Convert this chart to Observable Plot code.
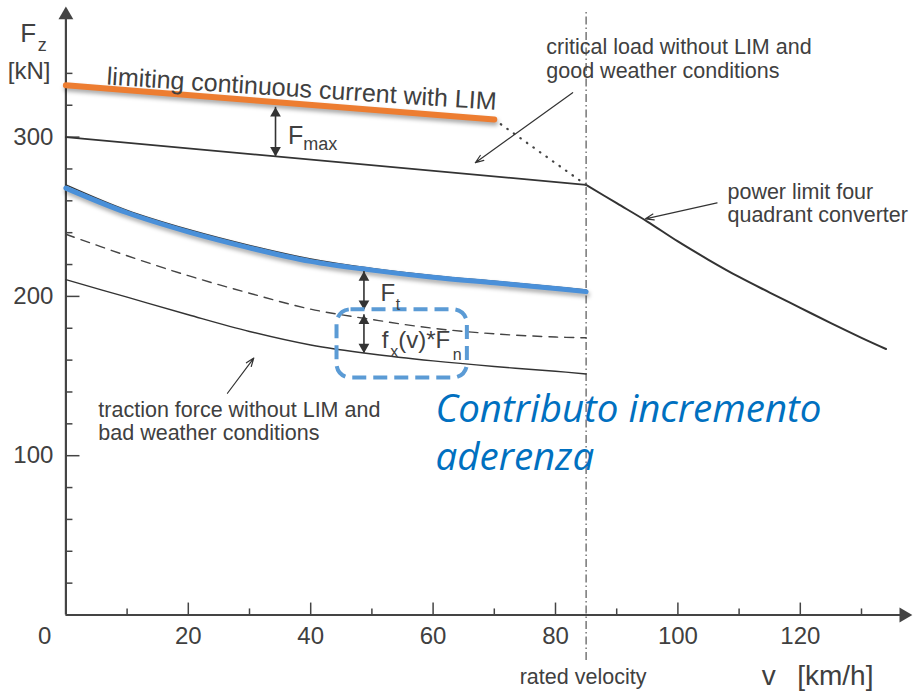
<!DOCTYPE html>
<html><head><meta charset="utf-8">
<script src="https://cdn.jsdelivr.net/npm/d3@7"></script>
<script src="https://cdn.jsdelivr.net/npm/@observablehq/plot@0.6"></script>
<style>
html,body{margin:0;padding:0;background:#fff;}
svg{display:block;}
.shadow{filter:drop-shadow(1px 3px 2px rgba(0,0,0,0.35));}
</style></head><body><div id="chart"></div>
<script>
// ---- data (velocity in km/h, force in kN) ----
const velocity = [0, 10, 20, 30, 40, 50, 60, 70, 80, 85];
const tractionWithLIM = [268, 252.5, 240.5, 230.5, 222, 216.5, 212, 208.5, 205, 203];
const tractionEnvelope = [270, 254, 242, 232, 223.5, 217.5, 213, 209.5, 206, 204];
const tractionGoodWeather = [239, 225.5, 213, 202, 192, 185.5, 180, 176.5, 174.5, 174];
const tractionBadWeather = [210.5, 199.5, 188.5, 178, 169.5, 163.8, 159.5, 156, 153, 151.3];
const criticalVelocity = [0, 85];
const criticalLoad = [300, 270];
const limitVelocity = [0, 70];
const limitCurrentLIM = [332.5, 311];
const limitExtVelocity = [70, 85];
const limitExtForce = [311, 270];
const powerVelocity = [85, 90, 95, 100, 105, 110, 115, 120, 125, 130, 134];
const powerLimit = [270, 258.5, 247, 234.5, 223, 212.2, 202.4, 192.8, 183.2, 174, 167];
const ratedVelocity = 85;
const xMajorTicks = [20, 40, 60, 80, 100, 120];
const xMinorTicks = [10, 30, 50, 70, 90, 110, 130];
const yMajorTicks = [100, 200, 300];
const yMinorTicks = [20, 40, 60, 80, 120, 140, 160, 180, 220, 240, 260, 280, 320, 340];

const pts = (xs, ys) => xs.map((v, i) => ({v, f: ys[i]}));
const AX = "#444", INK = "#333", TXT = "#404040";
const FONT = "'Liberation Sans', Arial, Helvetica, sans-serif";

const label = (x, y, t, o = {}) => Plot.text([{x, y, t}], {
  x: "x", y: "y", text: "t", textAnchor: "start", lineAnchor: "bottom",
  fontSize: 21.5, fill: TXT, fontFamily: FONT, ...o
});
const dblArrow = (x, top, bot) => [
  Plot.ruleX([{x, top, bot}], {x: "x", y1: "top", y2: "bot", stroke: INK, strokeWidth: 1.6}),
  Plot.dot([{x, y: top}], {x: "x", y: "y", symbol: "triangle", r: 4, fill: INK, stroke: "none", dy: 6.2}),
  Plot.dot([{x, y: bot}], {x: "x", y: "y", symbol: "triangle", r: 4, fill: INK, stroke: "none", rotate: 180, dy: -6.2})
];
const pointer = (x1, y1, x2, y2) => Plot.arrow([{x1, y1, x2, y2}], {
  x1: "x1", y1: "y1", x2: "x2", y2: "y2", stroke: INK, strokeWidth: 1.2, headLength: 11, headAngle: 40
});

const chart = Plot.plot({
  width: 913, height: 693,
  marginTop: 0, marginRight: 0, marginBottom: 0, marginLeft: 0,
  style: {fontFamily: FONT, background: "#fff", overflow: "visible"},
  x: {domain: [0, 140], range: [65.4, 65.4 + 140 * 6.12]},
  y: {domain: [0, 380], range: [614.5, 614.5 - 380 * 1.593]},
  axis: null,
  marks: [
    // rated velocity dash-dot line
    Plot.ruleX([ratedVelocity], {y1: -28.5, y2: 380, stroke: "#555", strokeWidth: 1.2, strokeDasharray: "8,3,1.5,3"}),
    // axes
    Plot.ruleY([0], {x1: 0, x2: 137, stroke: AX, strokeWidth: 2.2}),
    Plot.ruleX([0], {y1: 0, y2: 376, stroke: AX, strokeWidth: 2.2}),
    Plot.dot([{x: 0, y: 382}], {x: "x", y: "y", symbol: "triangle", r: 5.5, fill: AX, stroke: "none", dy: 8.5}),
    Plot.dot([{x: 138.3, y: 0}], {x: "x", y: "y", symbol: "triangle", r: 5.5, fill: AX, stroke: "none", rotate: 90, dx: -8.5}),
    Plot.ruleX(xMajorTicks, {y1: 0, y2: 7.5, stroke: AX, strokeWidth: 1.5}),
    Plot.ruleX(xMinorTicks, {y1: 0, y2: 3.8, stroke: AX, strokeWidth: 1.5}),
    Plot.ruleY(yMajorTicks, {x1: 0, x2: 2.3, stroke: AX, strokeWidth: 1.5}),
    Plot.ruleY(yMinorTicks, {x1: 0, x2: 1.15, stroke: AX, strokeWidth: 1.5}),
    Plot.text(xMajorTicks, {x: d => d, y: () => 0, dy: 28.6, text: d => String(d), lineAnchor: "bottom", fontSize: 24, fill: TXT}),
    Plot.text(["0"], {x: () => -3.45, y: () => 0, dy: 28.6, text: d => d, lineAnchor: "bottom", fontSize: 24, fill: TXT}),
    Plot.text(yMajorTicks, {x: () => 0, y: d => d, dx: -12.5, text: d => String(d), textAnchor: "end", lineAnchor: "middle", fontSize: 24, fill: TXT}),
    // curves
    Plot.line(pts(criticalVelocity, criticalLoad), {x: "v", y: "f", stroke: INK, strokeWidth: 1.8}),
    Plot.line(pts(powerVelocity, powerLimit), {x: "v", y: "f", stroke: INK, strokeWidth: 2, curve: "catmull-rom"}),
    Plot.line(pts(limitExtVelocity, limitExtForce), {x: "v", y: "f", stroke: "#444", strokeWidth: 2.2, strokeDasharray: "0.5,7.5", strokeLinecap: "round"}),
    Plot.line(pts(velocity, tractionGoodWeather), {x: "v", y: "f", stroke: "#444", strokeWidth: 1.4, strokeDasharray: "9,7", curve: "catmull-rom"}),
    Plot.line(pts(velocity, tractionBadWeather), {x: "v", y: "f", stroke: INK, strokeWidth: 1.4, curve: "catmull-rom"}),
    Plot.line(pts(velocity, tractionEnvelope), {x: "v", y: "f", stroke: INK, strokeWidth: 1.4, curve: "catmull-rom"}),
    Plot.line(pts(velocity, tractionWithLIM), {x: "v", y: "f", stroke: "#4a90d9", strokeWidth: 5, curve: "catmull-rom", className: "shadow"}),
    Plot.line(pts(limitVelocity, limitCurrentLIM), {x: "v", y: "f", stroke: "#ed7d31", strokeWidth: 6, className: "shadow"}),
    // double arrows
    ...dblArrow(34.25, 318.7, 287.9),
    ...dblArrow(48.7, 215.7, 191.6),
    ...dblArrow(48.7, 188.5, 164.4),
    // pointer arrows
    pointer(82.8, 327.9, 66.9, 283.9),
    pointer(106.4, 258.7, 94.7, 248.7),
    pointer(26.4, 139.2, 30.7, 161.3),
    // highlight box
    Plot.rect([{x1: 44.3, x2: 65.6, y1: 148.7, y2: 191.6}], {x1: "x1", x2: "x2", y1: "y1", y2: "y2", rx: 14, fill: "none", stroke: "#5b9bd5", strokeWidth: 4, strokeDasharray: "14,7"}),
    // labels
    label(-7.47, 359.4, "F", {fontSize: 26}),
    label(-4.6, 354.2, "z", {fontSize: 18}),
    label(-9.5, 336.7, "[kN]", {fontSize: 24}),
    label(6.6, 333.0, "limiting continuous current with LIM", {fontSize: 25, rotate: 3.7}),
    label(36.3, 295.4, "F", {fontSize: 25}),
    label(38.8, 291.6, "max", {fontSize: 18}),
    label(51.4, 196.9, "F", {fontSize: 24}),
    label(53.9, 191.6, "t", {fontSize: 16}),
    label(51.6, 167.4, "f", {fontSize: 24}),
    label(53.0, 162.2, "x", {fontSize: 16}),
    label(54.3, 167.4, "(v)*F", {fontSize: 24}),
    label(63.2, 160.2, "n", {fontSize: 16}),
    label(78.5, 337.4, "critical load without LIM and\ngood weather conditions", {lineHeight: 1.09}),
    label(108.1, 246.7, "power limit four\nquadrant converter", {lineHeight: 1.05}),
    label(5.3, 109.9, "traction force without LIM and\nbad weather conditions", {lineHeight: 1.09}),
    label(60.4, 91.0, "Contributo incremento\naderenza", {fontSize: 38.5, lineHeight: 1.25, fill: "#0070c0", fontStyle: "italic", fontFamily: "'Open Sans', sans-serif"}),
    label(84.5, -43.1, "rated velocity", {textAnchor: "middle"}),
    label(113.7, -44.2, "v", {fontSize: 28}),
    label(119.5, -44.2, "[km/h]", {fontSize: 28})
  ]
});
document.getElementById("chart").appendChild(chart);
</script></body></html>
